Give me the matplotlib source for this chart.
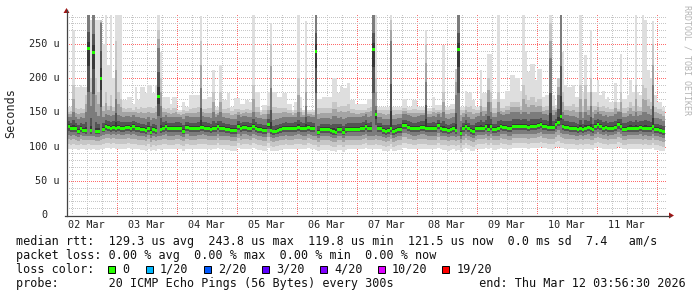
import numpy as np
import matplotlib
matplotlib.use("Agg")
import matplotlib.pyplot as plt
from matplotlib.lines import Line2D
from matplotlib.patches import Polygon, Rectangle
from matplotlib.transforms import blended_transform_factory

# ---------------- data (hourly bins, values in microseconds) ----------------
# first bin starts Mar 2 ~04:10, one value per hour
start_day = 0.1733          # days since Mar 2 00:00
day_labels = ["02 Mar", "03 Mar", "04 Mar", "05 Mar", "06 Mar",
              "07 Mar", "08 Mar", "09 Mar", "10 Mar", "11 Mar"]
y_ticks = [0, 50, 100, 150, 200, 250]
y_tick_labels = ["0", "50 u", "100 u", "150 u", "200 u", "250 u"]

med = [
    130, 127, 127, 126, 122, 127, 124, 123, 243.8, 123, 237, 122, 122, 199, 125, 130, 128, 127, 128, 127, 128, 126, 127, 128,
    128, 127, 129, 127, 126, 124.5, 124.5, 123, 127, 121, 124.5, 123, 173, 124.5, 127, 129, 126, 126, 126, 127, 127, 126, 122, 128,
    128, 126, 126, 126, 127, 128, 128, 127, 126, 124.5, 126, 126, 129.5, 126, 126, 124.5, 124.5, 123, 123, 123, 129.5, 126, 128, 128,
    127, 126, 129.5, 127, 124.5, 124.5, 123, 123, 131.7, 123, 121.5, 122, 123, 124.5, 126, 127, 126, 126, 126, 127, 128, 127, 126, 126,
    128, 127, 126, 239.5, 120.5, 124.5, 124.5, 124.5, 124.5, 123, 122, 120.5, 124.5, 124.5, 120.5, 124.5, 125.4, 125.4, 125.4, 125.4, 125.4, 126, 127, 129.5,
    126, 126, 241.6, 147, 126, 126, 123, 122, 123, 127, 122, 123, 124.5, 124.5, 130.5, 130.5, 128, 127, 126, 126, 127, 128, 128, 127,
    126, 126, 126, 126, 130.5, 126, 124.5, 124.5, 123, 124.5, 126, 123, 241.6, 119.8, 126, 129.5, 126, 123, 122, 126, 127, 127, 127, 129.5,
    125.4, 129.5, 124.5, 124.5, 126, 129.5, 128, 128, 126, 126, 129.5, 129.5, 129.5, 129.5, 129.5, 129.5, 128, 129.5, 129.5, 129.5, 130.5, 132.6, 129.5, 129.5,
    128, 128, 128, 131.8, 135.6, 144, 129.6, 128, 128, 127, 127, 126, 124.5, 127, 124.5, 127, 128, 126, 124.5, 129.6, 131.8, 129.5, 127, 128,
    126, 127, 127, 128, 131.8, 129.5, 125.4, 125.4, 127, 127, 127, 127, 127, 128, 126, 127, 126, 126, 129.5, 124.5, 124.5, 123, 121.5,
]

ping_max = [
    158, 158, 270, 187, 187, 190, 187, 187, 292, 285, 292, 285, 285, 285, 250, 292, 220, 292, 200, 292, 292, 292, 168, 168,
    173, 173, 163, 187, 168, 187, 187, 178, 190, 190, 178, 190, 292, 239, 173, 173, 173, 163, 173, 173, 153, 153, 165, 158,
    158, 175, 175, 175, 175, 291, 170, 170, 173, 173, 212, 158, 158, 219, 168, 168, 178, 158, 158, 171, 171, 163, 163, 168,
    168, 165, 292, 180, 180, 153, 161, 161, 180, 280, 180, 180, 173, 173, 178, 178, 163, 163, 153, 165, 292, 173, 153, 283,
    153, 153, 153, 292, 170, 170, 173, 173, 173, 173, 200, 200, 178, 188, 186, 186, 193, 168, 168, 163, 163, 163, 163, 163,
    170, 170, 292, 292, 158, 158, 158, 158, 158, 292, 158, 158, 158, 158, 170, 170, 158, 158, 168, 168, 158, 158, 158, 271,
    156, 156, 173, 161, 161, 161, 248, 158, 158, 163, 163, 214, 292, 158, 158, 182, 178, 180, 168, 158, 158, 212, 178, 178,
    236, 236, 170, 170, 292, 170, 170, 182, 182, 204, 204, 200, 200, 182, 292, 240, 209, 221, 221, 197, 214, 214, 173, 176,
    176, 292, 176, 161, 200, 292, 239, 190, 187, 187, 190, 173, 173, 292, 180, 234, 180, 271, 180, 180, 197, 175, 182, 170,
    173, 165, 165, 193, 165, 236, 170, 170, 175, 197, 180, 292, 180, 175, 292, 285, 212, 200, 283, 175, 165, 165, 158,
]

smoke_hi = [
    150, 152, 190, 156, 155, 156, 155, 175, 292, 200, 292, 200, 180, 285, 160, 180, 160, 175, 158, 255, 180, 170, 156, 155,
    156, 156, 154, 158, 155, 158, 157, 156, 158, 158, 156, 160, 270, 200, 156, 155, 156, 153, 156, 156, 150, 150, 154, 152,
    152, 155, 156, 156, 158, 255, 155, 155, 156, 157, 180, 153, 153, 180, 155, 155, 157, 152, 152, 155, 155, 153, 153, 155,
    155, 154, 190, 158, 158, 150, 153, 153, 160, 250, 158, 158, 156, 156, 157, 157, 154, 154, 150, 154, 200, 156, 150, 200,
    150, 150, 150, 292, 156, 156, 157, 157, 157, 157, 165, 165, 158, 160, 160, 160, 162, 155, 155, 153, 153, 153, 153, 153,
    156, 158, 292, 200, 153, 153, 153, 153, 153, 285, 153, 153, 153, 153, 156, 156, 153, 153, 155, 155, 153, 153, 153, 250,
    152, 152, 156, 154, 154, 154, 180, 153, 153, 155, 155, 214, 292, 153, 153, 160, 158, 160, 155, 153, 153, 170, 158, 158,
    200, 180, 156, 156, 180, 156, 156, 160, 160, 165, 165, 165, 165, 160, 190, 175, 168, 172, 172, 165, 170, 170, 158, 160,
    160, 280, 160, 156, 200, 292, 180, 160, 160, 160, 162, 158, 158, 190, 160, 190, 160, 200, 160, 160, 165, 158, 160, 156,
    158, 155, 155, 165, 155, 180, 156, 156, 158, 165, 160, 190, 160, 158, 190, 185, 170, 165, 250, 158, 155, 155, 152,
]

core_hi = [
    144, 143, 150, 143, 140, 143, 142, 150, 292, 160, 292, 150, 145, 280, 143, 148, 146, 145, 146, 170, 146, 145, 144, 145,
    145, 144, 146, 144, 143, 142, 142, 141, 144, 139, 142, 141, 244, 160, 144, 146, 143, 143, 143, 144, 144, 143, 140, 145,
    145, 143, 143, 143, 144, 185, 145, 144, 143, 142, 150, 143, 146, 150, 143, 142, 142, 141, 141, 141, 146, 143, 145, 145,
    144, 143, 150, 144, 142, 142, 141, 141, 148, 185, 139, 140, 141, 142, 143, 144, 143, 143, 143, 144, 150, 144, 143, 160,
    145, 144, 143, 292, 140, 142, 142, 142, 142, 141, 145, 145, 142, 143, 140, 142, 143, 143, 143, 143, 143, 144, 145, 147,
    144, 145, 292, 160, 144, 144, 141, 140, 141, 255, 140, 141, 142, 142, 148, 148, 146, 145, 144, 144, 145, 146, 146, 195,
    144, 144, 145, 144, 148, 144, 150, 142, 141, 142, 144, 175, 292, 138, 144, 147, 144, 141, 140, 144, 145, 150, 145, 147,
    165, 150, 143, 143, 150, 147, 146, 148, 148, 150, 150, 150, 150, 147, 150, 150, 148, 150, 150, 150, 150, 150, 147, 147,
    146, 230, 146, 150, 175, 292, 150, 146, 146, 145, 145, 144, 142, 150, 142, 150, 146, 160, 142, 147, 150, 147, 145, 146,
    144, 145, 145, 147, 150, 150, 143, 143, 145, 148, 145, 150, 145, 146, 150, 150, 148, 146, 190, 142, 142, 141, 138,
]

core_lo = [
    117, 116, 117, 116, 114, 117, 116, 115, 116, 115, 116, 114, 114, 116, 117, 119, 118, 117, 118, 117, 118, 117, 117, 118,
    118, 117, 118, 117, 116, 115, 115, 114, 117, 113, 115, 114, 116, 115, 117, 118, 116, 116, 116, 117, 117, 116, 114, 118,
    118, 116, 116, 116, 117, 117, 118, 117, 116, 115, 116, 116, 119, 116, 116, 115, 115, 114, 114, 114, 119, 116, 118, 118,
    117, 116, 119, 117, 115, 115, 114, 114, 120, 114, 113, 114, 114, 115, 116, 117, 116, 116, 116, 117, 118, 117, 116, 116,
    118, 117, 116, 116, 112, 115, 115, 115, 115, 114, 113, 112, 115, 115, 112, 115, 116, 116, 116, 116, 116, 116, 117, 119,
    116, 116, 116, 117, 116, 116, 114, 113, 114, 117, 113, 114, 115, 115, 120, 120, 118, 117, 116, 116, 117, 118, 118, 117,
    116, 116, 116, 116, 120, 116, 115, 115, 114, 115, 116, 114, 115, 111, 116, 119, 116, 114, 113, 116, 117, 117, 117, 119,
    116, 119, 115, 115, 116, 119, 118, 118, 116, 116, 119, 119, 119, 119, 119, 119, 118, 119, 119, 119, 120, 122, 119, 119,
    118, 118, 118, 121, 124, 120, 119, 118, 118, 117, 117, 116, 115, 117, 115, 117, 118, 116, 115, 119, 121, 119, 117, 118,
    116, 117, 117, 118, 121, 119, 116, 116, 117, 117, 117, 117, 117, 118, 116, 117, 116, 116, 119, 115, 115, 114, 112,
]

ping_min = [
    97, 96, 97, 96, 95, 97, 96, 95, 97, 95, 96, 95, 95, 96, 97, 98, 98, 97, 98, 97, 97, 96, 97, 97,
    98, 97, 97, 96, 96, 95, 95, 94, 97, 93, 95, 94, 96, 95, 97, 97, 96, 96, 96, 97, 97, 96, 94, 97,
    97, 96, 96, 96, 97, 96, 97, 97, 96, 95, 96, 96, 98, 96, 96, 95, 95, 94, 94, 94, 98, 96, 97, 97,
    97, 96, 98, 97, 95, 95, 94, 94, 98, 94, 93, 94, 94, 95, 96, 97, 96, 96, 96, 97, 97, 97, 96, 96,
    98, 97, 96, 95, 93, 95, 95, 95, 95, 94, 93, 92, 95, 95, 92, 95, 96, 96, 96, 96, 96, 96, 97, 98,
    96, 96, 96, 96, 96, 96, 94, 93, 94, 96, 93, 94, 95, 95, 98, 98, 97, 97, 96, 96, 97, 97, 97, 97,
    96, 96, 96, 96, 98, 96, 95, 95, 94, 95, 96, 94, 95, 92, 96, 98, 96, 94, 93, 96, 97, 97, 97, 98,
    96, 98, 95, 95, 96, 98, 97, 97, 96, 96, 98, 98, 98, 98, 98, 98, 97, 98, 98, 98, 98, 99, 98, 98,
    97, 97, 97, 99, 100, 98, 98, 97, 97, 97, 97, 96, 95, 97, 95, 97, 97, 96, 95, 98, 99, 98, 97, 97,
    96, 97, 97, 97, 99, 98, 96, 96, 97, 97, 97, 97, 97, 97, 96, 97, 96, 96, 98, 95, 95, 94, 93,
]

stats_line = "median rtt:  129.3 us avg  243.8 us max  119.8 us min  121.5 us now  0.0 ms sd  7.4   am/s"
loss_line = "packet loss: 0.00 % avg  0.00 % max  0.00 % min  0.00 % now"
loss_labels = ["0", "1/20", "2/20", "3/20", "4/20", "10/20", "19/20"]
loss_colors = ["#26ff00", "#00b8ff", "#0059ff", "#5e00ff", "#7e00ff", "#dd00ff", "#ff0000"]
probe_line = "probe:       20 ICMP Echo Pings (56 Bytes) every 300s            end: Thu Mar 12 03:56:30 2026"

# ---------------- figure geometry (pixels) ----------------
W, H = 697, 297
PL, PR, PT, PB = 67.0, 667.0, 15.0, 215.0
PW, PH = int(PR - PL), int(PB - PT)
YMAX = 292.4
MONO = "DejaVu Sans Mono"

fig = plt.figure(figsize=(W / 100, H / 100), dpi=100)
fig.patch.set_facecolor("white")
ax = fig.add_axes([PL / W, 1 - PB / H, (PR - PL) / W, (PB - PT) / H])
ax.set_facecolor("white")
ax.set_xlim(start_day, start_day + 10)
ax.set_ylim(0, YMAX)
for s in ax.spines.values():
    s.set_visible(False)
ax.set_xticks([])
ax.set_yticks([])

def fx(px):
    return px / W

def fy(py):
    return 1 - py / H

# ---------------- dotted grid, drawn pixel-exact ----------------
minor_c = np.array([0.78, 0.78, 0.78, 1.0])
major_c = np.array([1.00, 0.42, 0.42, 1.0])
grid = np.zeros((PH, PW, 4))
q = np.ceil(start_day * 4) / 4
for xv in np.arange(q, start_day + 10, 0.25):
    c = int(round((xv - start_day) / 10 * PW))
    if 0 <= c < PW:
        is_major = abs(xv - round(xv)) < 1e-6
        grid[::2, c] = major_c if is_major else minor_c
for yv in range(10, int(YMAX) + 1, 10):
    r = int(round((YMAX - yv) / YMAX * PH))
    if 0 <= r < PH:
        grid[r, ::2] = major_c if yv % 50 == 0 else minor_c
ax.imshow(grid, extent=(start_day, start_day + 10, 0, YMAX), aspect="auto",
          interpolation="nearest", origin="upper", zorder=1)
ax.set_xlim(start_day, start_day + 10)
ax.set_ylim(0, YMAX)

# ---------------- smoke ----------------
n = len(med)
xe = start_day + np.arange(n + 1) / 24.0

def ext(a):
    a = np.asarray(a, float)
    return np.append(a, a[-1])

m = np.asarray(med, float)
hi = np.asarray(ping_max, float)
up = np.asarray(smoke_hi, float)
ch = np.asarray(core_hi, float)
cl = np.asarray(core_lo, float)
lo = np.asarray(ping_min, float)

layers = [
    (lo, hi, "#dedede"),
    (lo + 0.35 * (cl - lo), up, "#c6c6c6"),
    (lo + 0.70 * (cl - lo), up + 0.5 * (ch - up), "#a4a4a4"),
    (cl, ch, "#7c7c7c"),
    (cl + 0.5 * (m - cl), ch + 0.5 * (m - ch), "#545454"),
    (cl + 0.8 * (m - cl), ch + 0.8 * (m - ch), "#383838"),
]
for a, b, c in layers:
    ax.fill_between(xe, ext(a), ext(b), step="post", color=c, lw=0,
                    antialiased=False, zorder=2)

# median band (loss 0 -> green)
band = 2.2
ax.fill_between(xe, ext(m - band), ext(m + band), step="post", color="#22ff00",
                lw=0, antialiased=False, zorder=4)

# ---------------- axes lines & arrows ----------------
axis_c = "#444444"
arrow_c = "#a01515"
fig.add_artist(Line2D([fx(PL - 0.5), fx(PL - 0.5)], [fy(PB + 0.5), fy(10)], color=axis_c, lw=0.9))
fig.add_artist(Line2D([fx(PL - 2), fx(670)], [fy(PB + 0.5), fy(PB + 0.5)], color=axis_c, lw=0.9))
fig.add_artist(Polygon([[fx(PL - 3.5), fy(13)], [fx(PL + 2.5), fy(13)], [fx(PL - 0.5), fy(8)]],
                       closed=True, color=arrow_c, lw=0))
fig.add_artist(Polygon([[fx(669), fy(PB - 2.5)], [fx(669), fy(PB + 3.5)], [fx(674), fy(PB + 0.5)]],
                       closed=True, color=arrow_c, lw=0))

# ---------------- tick labels ----------------
tsize = 7.3
for i, lab in enumerate(day_labels):
    xv = i + 0.5
    ax.text(xv, -10.0 / (PB - PT), lab, transform=blended_transform_factory(ax.transData, ax.transAxes),
            ha="center", va="center", family=MONO, size=tsize, color="#222222")
ytr = blended_transform_factory(ax.transAxes, ax.transData)
for v, lab in zip(y_ticks, y_tick_labels):
    right = 59.5 if lab.endswith("u") else 47.5
    ax.text((right - PL) / (PR - PL), v, lab, transform=ytr, ha="right", va="center",
            family=MONO, size=tsize, color="#222222")

fig.text(fx(11), fy(113), "Seconds", rotation=90, ha="center", va="center",
         family=MONO, size=8.5, color="#222222")
fig.text(fx(687.5), fy(60), "RRDTOOL / TOBI OETIKER", rotation=270, ha="center", va="center",
         family=MONO, size=6.0, color="#b4b4b4")

# ---------------- legend ----------------
lsize = 8.5
fig.text(fx(16), fy(241.7), stats_line, ha="left", va="center", family=MONO, size=lsize, color="#111111")
fig.text(fx(16), fy(255.3), loss_line, ha="left", va="center", family=MONO, size=lsize, color="#111111")
fig.text(fx(16), fy(269.3), "loss color:", ha="left", va="center", family=MONO, size=lsize, color="#111111")
box_left = [108, 146, 203.5, 262, 319.5, 377.7, 442]
lab_left = [122, 160, 218, 276, 334, 391.5, 456.5]
for bl, ll, lab, col in zip(box_left, lab_left, loss_labels, loss_colors):
    fig.add_artist(Rectangle((fx(bl), fy(273)), 7 / W, 7 / H, facecolor=col,
                             edgecolor="black", lw=0.7))
    fig.text(fx(ll), fy(269.3), lab, ha="left", va="center", family=MONO, size=lsize, color="#111111")
fig.text(fx(16), fy(283.3), probe_line, ha="left", va="center", family=MONO, size=lsize, color="#111111")

fig.savefig("out.png", dpi=100, facecolor="white")
